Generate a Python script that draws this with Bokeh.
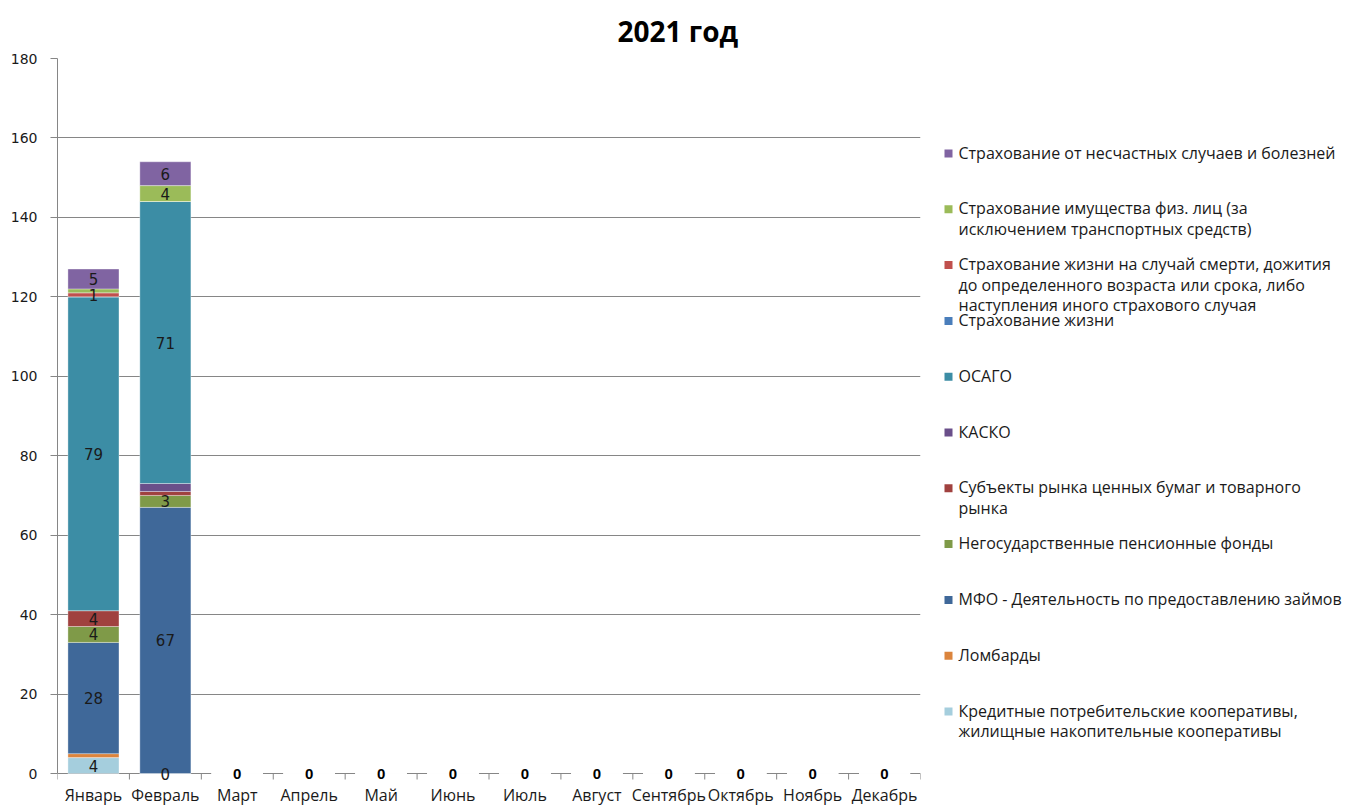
from bokeh.plotting import figure
from bokeh.models import Range1d, FixedTicker
from bokeh.layouts import row
from bokeh.embed import file_html
from bokeh.resources import INLINE
from bokeh.core.properties import value

# ---------------- data ----------------
months = ["Январь", "Февраль", "Март", "Апрель", "Май", "Июнь", "Июль",
          "Август", "Сентябрь", "Октябрь", "Ноябрь", "Декабрь"]

# stacked bottom -> top
kpk        = [4, 0, 0, 0, 0, 0, 0, 0, 0, 0, 0, 0]
lombard    = [1, 0, 0, 0, 0, 0, 0, 0, 0, 0, 0, 0]
mfo        = [28, 67, 0, 0, 0, 0, 0, 0, 0, 0, 0, 0]
npf        = [4, 3, 0, 0, 0, 0, 0, 0, 0, 0, 0, 0]
securities = [4, 1, 0, 0, 0, 0, 0, 0, 0, 0, 0, 0]
kasko      = [0, 2, 0, 0, 0, 0, 0, 0, 0, 0, 0, 0]
osago      = [79, 71, 0, 0, 0, 0, 0, 0, 0, 0, 0, 0]
life       = [0, 0, 0, 0, 0, 0, 0, 0, 0, 0, 0, 0]
life_event = [1, 0, 0, 0, 0, 0, 0, 0, 0, 0, 0, 0]
property_  = [1, 4, 0, 0, 0, 0, 0, 0, 0, 0, 0, 0]
accident   = [5, 6, 0, 0, 0, 0, 0, 0, 0, 0, 0, 0]

series_keys = ["kpk", "lombard", "mfo", "npf", "securities", "kasko",
               "osago", "life", "life_event", "property", "accident"]
series_values = [kpk, lombard, mfo, npf, securities, kasko,
                 osago, life, life_event, property_, accident]
series_labels = [
    "Кредитные потребительские кооперативы,\nжилищные накопительные кооперативы",
    "Ломбарды",
    "МФО - Деятельность по предоставлению займов",
    "Негосударственные пенсионные фонды",
    "Субъекты рынка ценных бумаг и товарного\nрынка",
    "КАСКО",
    "ОСАГО",
    "Страхование жизни",
    "Страхование жизни на случай смерти, дожития\nдо определенного возраста или срока, либо\nнаступления иного страхового случая",
    "Страхование имущества физ. лиц (за\nисключением транспортных средств)",
    "Страхование от несчастных случаев и болезней",
]
series_colors = ["#A5CEDD", "#DB843D", "#3F6899", "#7F9A48", "#A0413F",
                 "#6A4F8A", "#3C8DA5", "#4A7EBB", "#C0504D", "#9BBB59", "#8064A2"]

# months (index) where a data label is displayed, per series
label_months = {
    "kpk": [0, 1], "lombard": [], "mfo": [0, 1], "npf": [0, 1],
    "securities": [0], "kasko": [], "osago": [0, 1], "life": [],
    "life_event": [0], "property": [1], "accident": [0, 1],
}

title_text = "2021 год"
y_ticks = [0, 20, 40, 60, 80, 100, 120, 140, 160, 180]
y_max = 180

# ---------------- layout geometry (pixels) ----------------
GRID = "#868686"
W_MAIN, H = 930, 805
TOP = 58          # frame top (value y_max)
ZERO_PX = 773     # pixel row of value 0
px_per_unit = (ZERO_PX - TOP) / y_max
y_low = -(H - ZERO_PX) / px_per_unit   # frame extends below 0 to host month labels

p = figure(width=W_MAIN, height=H, output_backend="svg", toolbar_location=None,
           x_range=Range1d(0, len(months)), y_range=Range1d(y_low, y_max),
           x_axis_location=None,
           min_border_left=57, min_border_right=W_MAIN - 920, min_border_top=TOP,
           min_border_bottom=0)
p.outline_line_color = None
p.background_fill_color = "white"
p.border_fill_color = "white"
for g in p.grid:
    if g.dimension == 0:
        g.visible = False

xs = [i + 0.5 for i in range(len(months))]
data = {"x": xs}
for k, v in zip(series_keys, series_values):
    data[k] = v
p.vbar_stack(series_keys, x="x", width=0.71, source=data,
             color=series_colors, line_color="white", line_alpha=0.35, line_width=1)

# category axis: ticks at boundaries + month labels
bounds = list(range(len(months) + 1))
p.segment(x0=bounds, y0=[0] * len(bounds), x1=bounds,
          y1=[-6 / px_per_unit] * len(bounds), line_color=GRID, line_width=1)
p.text(x=xs, y=[-21 / px_per_unit] * len(xs), text=months, text_align="center",
       text_baseline="middle", text_font=value("Open Sans"), text_font_size="16px",
       text_color="#1a1a1a")

# data labels
lx, ly, lt = [], [], []
for idx, (k, v) in enumerate(zip(series_keys, series_values)):
    for m in label_months[k]:
        base = sum(series_values[j][m] for j in range(idx))
        lx.append(xs[m]); ly.append(base + v[m] / 2.0); lt.append(str(v[m]))
p.text(x=lx, y=ly, text=lt, text_align="center", text_baseline="middle",
       text_font=value("DejaVu Sans"), text_font_size="15px", text_color="#1a1a1a")

# bold total labels for empty months
totals = [sum(s[m] for s in series_values) for m in range(len(months))]
zx = [xs[m] for m in range(len(months)) if totals[m] == 0]
zy = [0 for m in range(len(months)) if totals[m] == 0]
zt = [str(totals[m]) for m in range(len(months)) if totals[m] == 0]
p.text(x=zx, y=zy, text=zt, text_align="center", text_baseline="middle",
       text_font=value("Liberation Sans"), text_font_style="bold",
       text_font_size="15px", text_color="#000000")

# value axis
p.yaxis.ticker = FixedTicker(ticks=y_ticks)
p.yaxis.bounds = (0, y_max)
p.yaxis.minor_tick_line_color = None
p.yaxis.major_tick_out = 7
p.yaxis.major_tick_in = 0
p.yaxis.major_tick_line_color = GRID
p.yaxis.axis_line_color = GRID
p.yaxis.major_label_standoff = 13
p.yaxis.major_label_text_font = "DejaVu Sans"
p.yaxis.major_label_text_font_size = "14px"
p.yaxis.major_label_text_color = "#1a1a1a"
p.ygrid.grid_line_color = GRID
p.ygrid.grid_line_width = 1

p.title.text = title_text
p.title.align = "left"
p.title.offset = 617 - 57
p.title.text_font = "Open Sans"
p.title.text_font_style = "bold"
p.title.text_font_size = "28px"
p.title.text_color = "#000000"
p.title.standoff = 18

# ---------------- legend panel ----------------
W_LEG = 1348 - W_MAIN
leg = figure(width=W_LEG, height=H, output_backend="svg", toolbar_location=None,
             x_range=Range1d(0, W_LEG), y_range=Range1d(H, TOP),
             x_axis_location=None, y_axis_location=None,
             min_border_left=0, min_border_right=0, min_border_top=TOP,
             min_border_bottom=0, outline_line_color=None)
leg.grid.visible = False
leg.background_fill_color = "white"
leg.border_fill_color = "white"

order = list(range(len(series_keys)))[::-1]
step = 55.8
first = 153
ly_centers = [first + i * step for i in range(len(order))]
leg.scatter(x=[18] * len(order), y=ly_centers, marker="square", size=8,
            color=[series_colors[j] for j in order], line_color=None)
leg.text(x=[28] * len(order), y=[c - 12 for c in ly_centers],
         text=[series_labels[j] for j in order], text_align="left",
         text_baseline="top", text_font=value("Open Sans"), text_font_size="16px",
         text_line_height=0.93, text_color="#1a1a1a")

layout = row(p, leg)
open("out.html", "w").write(file_html(layout, INLINE))
